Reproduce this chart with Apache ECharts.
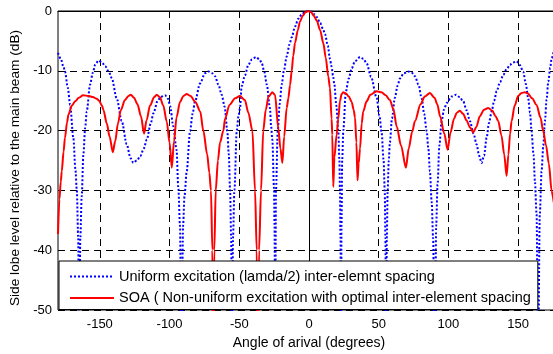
<!DOCTYPE html>
<html>
<head>
<meta charset="utf-8">
<script src="https://cdn.jsdelivr.net/npm/echarts@6/dist/echarts.min.js"></script>
<style>
  html, body { margin: 0; padding: 0; background: #fff; }
  #chart { width: 553px; height: 354px; }
</style>
</head>
<body>
<div id="chart"></div>
<script>
// angles (deg) and levels (dB)
const uniformAngle = [-180, -178, -176, -175, -173, -171.3, -169, -167.5, -166.5, -165.5, -164.8, -164, -163, -161.8, -160.5, -159.4, -157, -155, -153.4, -151, -148.5, -146.2, -143.5, -141.5, -137.9, -134.3, -130.7, -128, -126, -123.5, -121, -118.5, -116.3, -113.5, -111.6, -108.5, -106.5, -103.2, -101, -99.6, -97.3, -95, -93.7, -92.5, -91.5, -90.3, -89.3, -87.7, -85.3, -83.5, -81.7, -78.1, -74.6, -72.2, -69.5, -67.4, -65, -62.6, -60.5, -58.6, -57.5, -56.6, -55.8, -55.2, -54.5, -53.5, -51.8, -50.5, -49.5, -48.3, -46, -43.5, -41, -38, -35.5, -33.9, -32, -30.3, -28, -27.2, -26.3, -25.1, -24.7, -24.3, -23.7, -22.4, -21, -19.6, -18, -16, -14, -12.4, -10, -7.7, -5, -2.5, -0.7, 1.5, 3.5, 5.5, 8, 10, 11.5, 13.5, 15, 16.2, 17.2, 18.2, 19.6, 21, 21.8, 22.2, 22.6, 23, 23.3, 23.8, 24.6, 26.4, 28.5, 30.6, 33, 36.6, 39, 41.3, 44.5, 48.5, 50.5, 52.1, 53.5, 54.3, 54.8, 55.3, 55.8, 56.4, 57.2, 58, 59.5, 61.6, 63.5, 65.2, 68, 71, 73.5, 76, 78.5, 80.8, 82.6, 84.4, 85.6, 86.7, 88, 89, 90.2, 91.2, 92.2, 93.5, 95.1, 96.8, 98.7, 102.3, 105.5, 108, 110.6, 113, 115.4, 118, 120.2, 122, 123.8, 125.5, 127.4, 129, 131, 132.8, 134.6, 137, 139.3, 141.8, 144.1, 146.5, 148.9, 151, 153.6, 155.5, 157.2, 158.5, 159.6, 161, 162, 163.2, 164.3, 165.5, 166.8, 168, 169.2, 170.4, 171.6, 173, 174, 175.5];
const uniformDb = [-7.0, -8.0, -9.4, -10.1, -12.8, -15.7, -21.2, -26.5, -30, -38, -60, -38, -31, -24, -19.5, -16.8, -12.3, -10.3, -9.0, -8.3, -8.6, -9.2, -10.2, -11.2, -14.6, -18.4, -22.3, -24.6, -25.4, -25.0, -24.3, -23.0, -21.5, -18.8, -17.1, -15.0, -14.4, -14.1, -14.7, -15.9, -19.3, -23.2, -29.6, -36, -60, -36, -31, -26.8, -20.1, -17.2, -15.1, -12.1, -10.4, -10.1, -10.4, -10.9, -12.3, -14.0, -16.0, -20, -24, -30, -38, -60, -38, -30, -20, -17.5, -16.3, -12.6, -10.8, -9.0, -8.1, -7.7, -8.1, -8.7, -10.2, -12.3, -16.2, -19.2, -21.5, -29.6, -36, -60, -30, -20, -15.5, -12.3, -10, -7.6, -5.6, -4.4, -2.6, -1.3, -0.5, -0.1, 0, -0.1, -0.5, -1.0, -2.0, -3.0, -3.9, -5.8, -8.0, -9.3, -10.8, -12.3, -15.8, -20, -25, -30, -38, -60, -36, -25, -20, -13.5, -11.3, -9.6, -8.4, -7.7, -8.0, -8.7, -11, -14.5, -17.5, -20.4, -25, -30, -38, -60, -38, -30, -25, -22, -18, -14.5, -12.5, -11.3, -10.4, -10.1, -10.3, -10.9, -12.3, -14.6, -17.2, -20.1, -23, -26.8, -32, -38, -60, -36, -29, -22.5, -18.4, -16.5, -15.4, -14.3, -14.0, -14.4, -15.1, -16.6, -18.4, -20.5, -22.3, -24.2, -25.4, -24.2, -21.2, -18.8, -16.8, -15, -13.4, -11.9, -10.7, -9.7, -9.0, -8.6, -8.4, -9.0, -10.1, -12.2, -14.6, -17, -20.1, -24, -28.4, -34, -60, -34, -26.8, -22.5, -18.4, -14.8, -11.8, -9.5, -7.9, -6.8];

const soaAngle = [-180, -179, -178, -177.3, -176, -175, -173.5, -172.5, -170, -167.7, -165, -162, -158, -155, -152, -150.5, -148.5, -147.5, -145, -143, -140.7, -139, -137, -135, -132, -129.5, -127.8, -125.5, -123, -120.5, -118.3, -116.5, -114, -111, -109.2, -107, -104.5, -102, -100, -98.4, -96.8, -95, -92.5, -90, -87.7, -85, -81.5, -78, -75.8, -73, -71.5, -70.3, -69.3, -68.8, -67.9, -66.9, -65.3, -63.8, -61.4, -60.2, -57, -53, -49.5, -46, -43.5, -40.6, -38.7, -37.5, -36.7, -35.8, -34.4, -32.8, -31, -29, -26.3, -24.4, -22, -20.5, -19.1, -17.8, -16, -14.8, -13.6, -12.4, -11.3, -10, -8, -6.5, -4.5, -2.5, -0.7, 1.5, 3.5, 5.5, 8, 10.3, 12, 13.8, 15, 16.2, 16.7, 17.4, 18.2, 19.8, 21, 22.2, 23.4, 24.6, 26.5, 28.5, 30.6, 32, 33, 34, 34.8, 35.6, 36.6, 37.8, 38.9, 41.3, 44, 48.5, 52, 55, 58, 60.5, 62.9, 66, 69.5, 71.5, 74, 76, 80, 83, 86.7, 90, 92, 94, 97, 99.4, 101.5, 104, 106, 108.2, 110.5, 113, 115.5, 117.8, 120, 122.5, 125.5, 128.5, 131.5, 133.8, 135.7, 138, 140, 141.7, 143, 144.2, 145.3, 147.5, 150, 152.5, 154.8, 157, 160, 163.2, 166, 168, 170, 172, 174, 175.5];
const soaDb = [-37.3, -31.5, -28.5, -26.8, -23.5, -21.2, -18.6, -17.3, -15.8, -15.1, -14.5, -14.1, -14.2, -14.4, -14.7, -15.0, -15.8, -16.5, -18.8, -21, -23.6, -21.8, -18.8, -16.6, -14.9, -14.2, -14.0, -14.5, -15.6, -17.6, -20.5, -18.3, -15.8, -14.4, -14.0, -14.4, -15.8, -18.5, -22, -26.2, -21.8, -17.8, -15.2, -14.2, -13.9, -14.2, -15.2, -16.8, -20, -24, -27, -30, -40, -60, -40, -30, -25, -22, -20, -18, -15.7, -14.6, -14.2, -14.9, -17, -20, -30, -40, -60, -40, -30, -20, -16.5, -14.3, -13.6, -14.0, -19.6, -23, -25.4, -21, -16.2, -14.6, -12.4, -10.0, -7.5, -5.3, -3.2, -1.8, -0.8, -0.2, 0, -0.2, -0.8, -1.6, -3.2, -5.4, -7.8, -10.9, -12.8, -18, -20.7, -29.4, -24.5, -20.7, -18, -15.1, -13.9, -13.6, -13.8, -14.3, -15.2, -16.5, -17.8, -22, -28.3, -25.5, -23, -18.8, -16.8, -15.1, -14, -13.4, -13.6, -14.1, -14.9, -16.4, -19.3, -22.5, -26.2, -23, -20.2, -18.4, -15.6, -14.3, -13.7, -14.5, -15.6, -17.6, -20.5, -23.2, -20.3, -18, -17, -16.7, -17.2, -18.3, -19.5, -20.3, -19.4, -17.6, -16.5, -16.2, -16.7, -17.6, -18.4, -20.8, -24, -27.6, -24, -20.5, -18.4, -15.8, -14.2, -13.7, -13.6, -13.8, -14.6, -15.7, -17.8, -20.1, -22.5, -25.5, -30.1, -32];

const xTicks = [-150, -100, -50, 0, 50, 100, 150];
const uniformName = 'Uniform excitation (lamda/2) inter-elemnt spacing';
const soaName = 'SOA ( Non-uniform excitation with optimal inter-element spacing';
const yTitle = 'Side lobe level relative to the main beam (dB)';

function pairs(xs, ys) {
  let out = [];
  for (let i = 0; i < xs.length; i++) {
    out.push([xs[i], ys[i]]);
  }
  return out;
}

let myChart = echarts.init(document.getElementById('chart'));
const font = 'Liberation Sans, Arial, sans-serif';
const grid = { type: [7, 5], color: '#000', width: 1 };

let option = {
  animation: false,
  // plot runs past the right edge of the picture (x max 180 is cut off)
  grid: {
    left: 58, top: 11, width: 502, height: 299,
    outerBoundsMode: 'none',
    containLabel: false,
    show: true, borderColor: '#000', borderWidth: 1
  },
  legend: {
    orient: 'vertical',
    left: 59, top: 261,
    backgroundColor: '#fff',
    borderColor: '#000', borderWidth: 1,
    padding: [8, 7, 4, 10],
    itemGap: 6.5,
    itemWidth: 44, itemHeight: 14,
    itemStyle: { opacity: 0, borderWidth: 0 },
    textStyle: { fontFamily: font, fontSize: 14.5, color: '#000' },
    data: [uniformName, soaName]
  },
  graphic: [{
    type: 'text',
    x: 15, y: 168,
    rotation: Math.PI / 2,
    style: {
      text: yTitle,
      fontFamily: font, fontSize: 13.7, fill: '#000',
      align: 'center', verticalAlign: 'middle'
    }
  }],
  xAxis: {
    type: 'value',
    min: -180, max: 180,
    name: 'Angle of arival (degrees)',
    nameLocation: 'middle',
    nameGap: 26,
    nameTextStyle: { fontFamily: font, fontSize: 14, color: '#000' },
    axisLine: { lineStyle: { color: '#000' } },
    axisTick: { show: false, customValues: xTicks },
    axisLabel: { customValues: xTicks, margin: 8, fontFamily: font, fontSize: 13, color: '#000' },
    splitLine: { show: true, lineStyle: grid }
  },
  yAxis: {
    type: 'value',
    min: -50, max: 0, interval: 10,
    axisLine: { show: true, lineStyle: { color: '#000' } },
    axisTick: { show: false },
    axisLabel: { margin: 6, fontFamily: font, fontSize: 13, color: '#000' },
    splitLine: { show: true, lineStyle: grid }
  },
  series: [
    {
      name: uniformName,
      type: 'line',
      symbol: 'none',
      smooth: 0.3,
      smoothMonotone: 'x',
      clip: true,
      lineStyle: { color: '#0000ff', width: 2, type: [2, 2] },
      itemStyle: { color: '#0000ff' },
      data: pairs(uniformAngle, uniformDb)
    },
    {
      name: soaName,
      type: 'line',
      symbol: 'none',
      smooth: 0.3,
      smoothMonotone: 'x',
      clip: true,
      lineStyle: { color: '#ff0000', width: 2 },
      itemStyle: { color: '#ff0000' },
      data: pairs(soaAngle, soaDb)
    }
  ]
};
myChart.setOption(option);
</script>
</body>
</html>
